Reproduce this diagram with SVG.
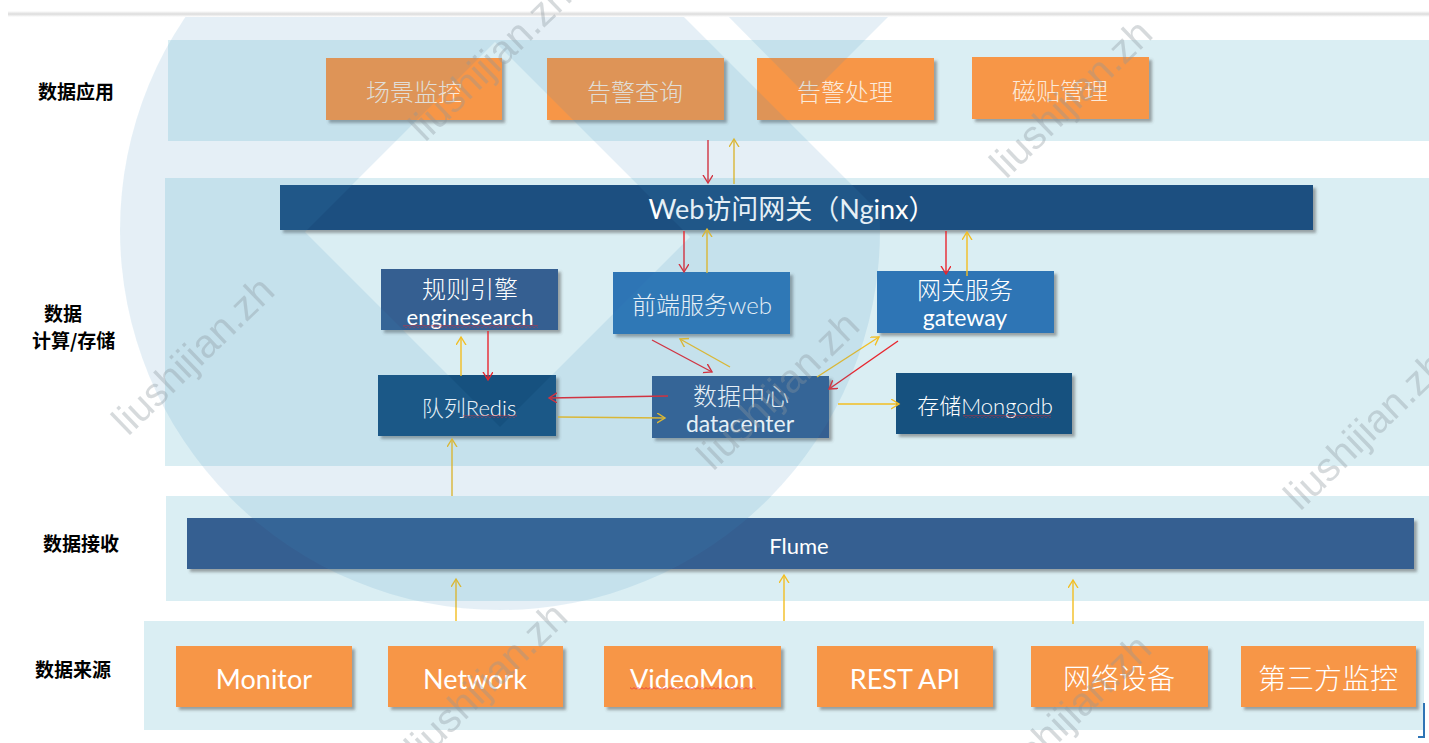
<svg xmlns="http://www.w3.org/2000/svg" width="1429" height="743" viewBox="0 0 1429 743">
<defs>
<style>
.band{fill:#DAEEF3}
.org{fill:#F79646;filter:url(#sh)}
.bx{filter:url(#sh)}
.lbl{font-family:'Noto Sans CJK SC',sans-serif;font-weight:700;font-size:19px;fill:#000}
.t{font-family:Lato,'Noto Sans CJK SC',sans-serif;fill:#fff;text-anchor:middle;dominant-baseline:central}
.top{font-family:'Noto Sans CJK SC',sans-serif;font-weight:300;font-size:24px;fill:#FBEADB;text-anchor:middle;dominant-baseline:central}
.r{stroke:#E8262E;stroke-width:1.4;fill:none;marker-end:url(#ar)}
.y{stroke:#F2BE22;stroke-width:1.4;fill:none;marker-end:url(#ay)}
.wm{font-family:'Liberation Sans',sans-serif;font-size:40px;fill:#8C979E;opacity:.35}
</style>
<marker id="ar" markerUnits="userSpaceOnUse" markerWidth="12" markerHeight="12" refX="8" refY="5" orient="auto"><path d="M0,0 L8,5 L0,10" fill="none" stroke="#E8262E" stroke-width="1.4"/></marker>
<marker id="ay" markerUnits="userSpaceOnUse" markerWidth="12" markerHeight="12" refX="8" refY="5" orient="auto"><path d="M0,0 L8,5 L0,10" fill="none" stroke="#F2BE22" stroke-width="1.4"/></marker>
<filter id="sh" x="-5%" y="-10%" width="115%" height="140%"><feDropShadow dx="3" dy="3" stdDeviation="1.5" flood-color="#404040" flood-opacity="0.45"/></filter>
<pattern id="sq" width="4" height="3" patternUnits="userSpaceOnUse"><path d="M0,2.5 L2,0.5 L4,2.5" fill="none" stroke="#E8262E" stroke-width="0.8"/></pattern>
<linearGradient id="tg" x1="0" y1="0" x2="0" y2="1"><stop offset="0" stop-color="#FFFFFF"/><stop offset="0.5" stop-color="#DCDCDC"/><stop offset="1" stop-color="#FFFFFF"/></linearGradient>
<mask id="lm" maskUnits="userSpaceOnUse" x="0" y="0" width="1429" height="743">
<circle cx="500" cy="230" r="380" fill="#fff"/>
<polygon points="305,232 495,42 690,237 500,427" fill="#000"/>
<polygon points="667,0 1429,0 1429,762" fill="#000"/>
<polygon points="712,0 905,0 808,97" fill="#fff"/>
</mask>
</defs>
<rect width="1429" height="743" fill="#fff"/>
<rect x="8" y="11" width="1421" height="6" fill="url(#tg)"/>

<g id="bands">
<rect class="band" x="168" y="40" width="1261" height="101"/>
<rect class="band" x="165" y="178" width="1264" height="288"/>
<rect class="band" x="166" y="496" width="1263" height="105"/>
<rect class="band" x="144" y="621" width="1280" height="109"/>
</g>

<g id="layer-labels">
<text class="lbl" x="38" y="99">数据应用</text>
<text class="lbl" x="44" y="321" font-size="18">数据</text>
<text class="lbl" x="32" y="348" font-size="18">计算/存储</text>
<text class="lbl" x="43" y="551">数据接收</text>
<text class="lbl" x="35" y="677">数据来源</text>
</g>

<g id="n-scene"><rect class="org" x="326" y="58" width="176" height="62"/><text class="top" x="414" y="90">场景监控</text></g>
<g id="n-alarm-query"><rect class="org" x="547" y="58" width="177" height="62"/><text class="top" x="635" y="90">告警查询</text></g>
<g id="n-alarm-handle"><rect class="org" x="757" y="58" width="177" height="62"/><text class="top" x="845" y="90">告警处理</text></g>
<g id="n-tile"><rect class="org" x="972" y="57" width="177" height="62"/><text class="top" x="1060" y="89">磁贴管理</text></g>

<g id="n-nginx"><rect class="bx" x="280" y="185" width="1033" height="45" fill="#1B4F80"/><text class="t" x="792" y="208" font-size="27">Web访问网关（Nginx）</text></g>

<g id="n-engine"><rect class="bx" x="381" y="269" width="177" height="61" fill="#365F91"/><text class="t" x="470" y="288" font-size="24" font-weight="300">规则引擎</text><text class="t" x="470" y="316" font-size="22">enginesearch</text><rect x="403" y="325" width="135" height="3" fill="url(#sq)"/></g>
<g id="n-web"><rect class="bx" x="613" y="272" width="177" height="62" fill="#2E74B5"/><text class="t" x="702" y="304" font-size="24" font-weight="300">前端服务web</text></g>
<g id="n-gateway"><rect class="bx" x="877" y="271" width="177" height="62" fill="#2E74B5"/><text class="t" x="965" y="289" font-size="24" font-weight="300">网关服务</text><text class="t" x="965" y="317" font-size="23">gateway</text></g>
<g id="n-redis"><rect class="bx" x="378" y="375" width="178" height="61" fill="#13517F"/><text class="t" x="469" y="407" font-size="22" font-weight="300">队列Redis</text><rect x="463" y="415" width="54" height="3" fill="url(#sq)"/></g>
<g id="n-datacenter"><rect class="bx" x="652" y="376" width="177" height="62" fill="#365F91"/><text class="t" x="741" y="395" font-size="24" font-weight="300">数据中心</text><text class="t" x="740" y="423" font-size="23">datacenter</text></g>
<g id="n-mongodb"><rect class="bx" x="896" y="373" width="176" height="61" fill="#13517F"/><text class="t" x="985" y="405" font-size="22" font-weight="300">存储Mongodb</text><rect x="963" y="415" width="88" height="3" fill="url(#sq)"/></g>

<g id="n-flume"><rect class="bx" x="187" y="518" width="1227" height="51" fill="#365F91"/><text class="t" x="799" y="545" font-size="22">Flume</text></g>

<g id="n-monitor"><rect class="org" x="176" y="646" width="176" height="61"/><text class="t" x="264" y="678" font-size="27">Monitor</text></g>
<g id="n-network"><rect class="org" x="388" y="646" width="175" height="61"/><text class="t" x="475" y="678" font-size="27">Network</text></g>
<g id="n-videomon"><rect class="org" x="604" y="646" width="177" height="61"/><text class="t" x="692" y="678" font-size="27">VideoMon</text><rect x="630" y="687" width="126" height="3" fill="url(#sq)"/></g>
<g id="n-rest"><rect class="org" x="817" y="646" width="176" height="61"/><text class="t" x="905" y="678" font-size="27">REST API</text></g>
<g id="n-netdev"><rect class="org" x="1031" y="646" width="177" height="61"/><text class="t" x="1119" y="678" font-size="28" font-weight="300">网络设备</text></g>
<g id="n-third"><rect class="org" x="1241" y="646" width="175" height="61"/><text class="t" x="1328" y="678" font-size="28" font-weight="300">第三方监控</text></g>

<g id="connectors">
<line class="r" x1="708" y1="140" x2="708" y2="183"/>
<line class="y" x1="734" y1="184" x2="734" y2="139"/>
<line class="r" x1="684" y1="231" x2="684" y2="272"/>
<line class="y" x1="707" y1="273" x2="707" y2="229"/>
<line class="r" x1="946" y1="231" x2="946" y2="274"/>
<line class="y" x1="967" y1="276" x2="967" y2="232"/>
<line class="y" x1="461" y1="376" x2="461" y2="337"/>
<line class="r" x1="488" y1="331" x2="488" y2="380"/>
<line class="r" x1="668" y1="396" x2="549" y2="398"/>
<line class="y" x1="558" y1="417" x2="665" y2="418"/>
<line class="r" x1="652" y1="340" x2="712" y2="372"/>
<line class="y" x1="730" y1="367" x2="680" y2="339"/>
<line class="y" x1="817" y1="377" x2="879" y2="337"/>
<line class="r" x1="898" y1="341" x2="829" y2="389"/>
<line class="y" x1="838" y1="404" x2="899" y2="404"/>
<line class="y" x1="452" y1="496" x2="452" y2="439"/>
<line class="y" x1="456" y1="621" x2="456" y2="579"/>
<line class="y" x1="784" y1="621" x2="784" y2="575"/>
<line class="y" x1="1073" y1="624" x2="1073" y2="580"/>
</g>

<g id="corner-mark" stroke="#2E74B5" stroke-width="2" fill="none"><path d="M1424,703 L1424,737 L1418,737"/></g>

<g id="watermark">
<rect x="0" y="17" width="1429" height="726" fill="#3C8DC0" opacity="0.13" mask="url(#lm)"/>
<text class="wm" transform="translate(425,143) rotate(-44)">liushijian.zh</text>
<text class="wm" transform="translate(1006,180) rotate(-44)">liushijian.zh</text>
<text class="wm" transform="translate(128,437) rotate(-44)">liushijian.zh</text>
<text class="wm" transform="translate(713,472) rotate(-44)">liushijian.zh</text>
<text class="wm" transform="translate(1300,512) rotate(-44)">liushijian.zh</text>
<text class="wm" transform="translate(421,763) rotate(-44)">liushijian.zh</text>
<text class="wm" transform="translate(1005,795) rotate(-44)">liushijian.zh</text>
</g>
</svg>
